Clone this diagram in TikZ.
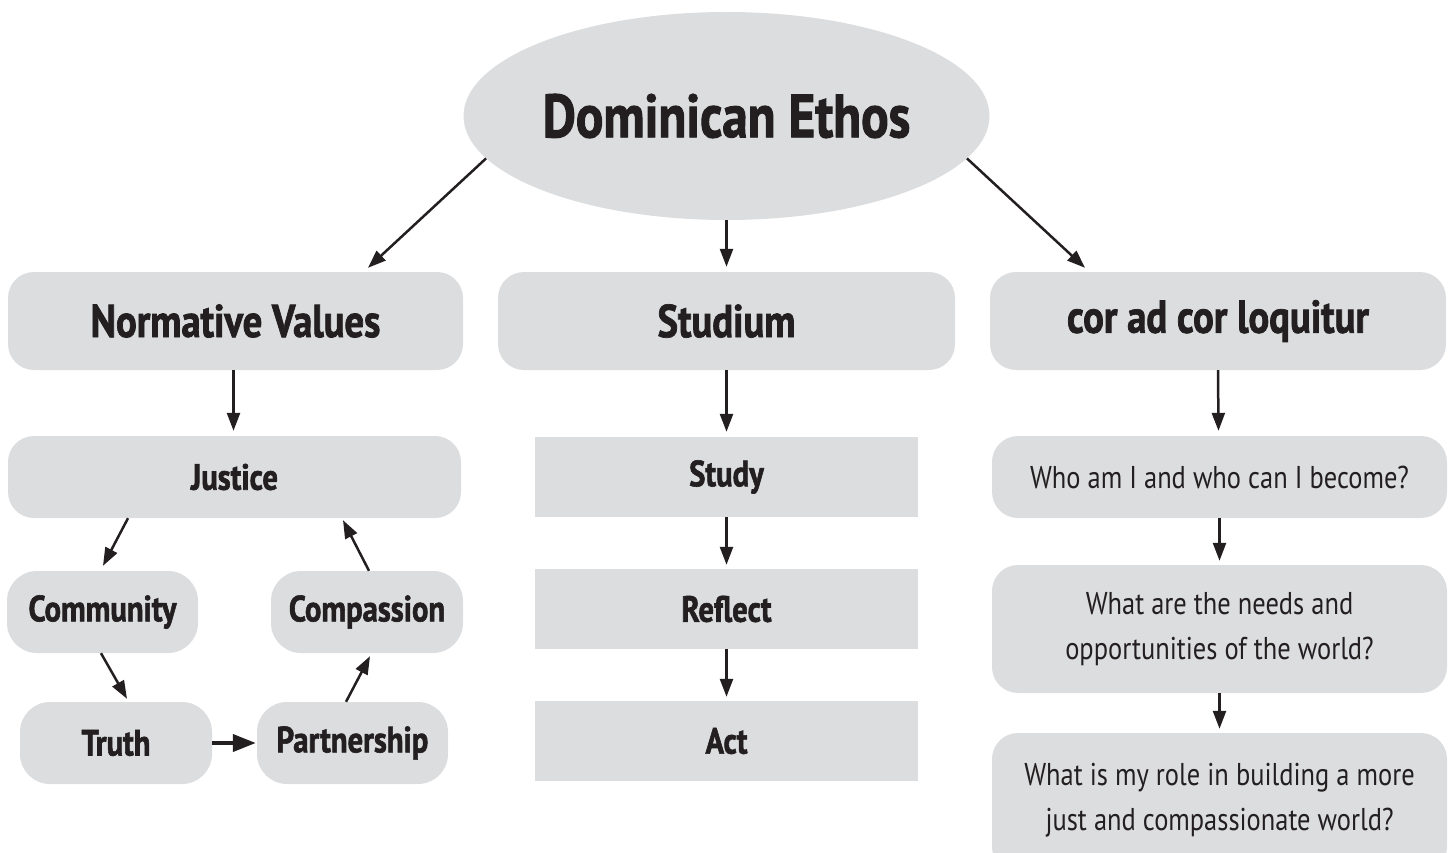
\documentclass[tikz,border=0pt]{standalone}
\usepackage{fontspec}
\setmainfont{PT Sans}[FakeStretch=0.84, BoldFeatures={FakeBold=1.6}]
\usetikzlibrary{shapes.geometric,arrows.meta}
\definecolor{boxgray}{RGB}{220,221,222}
\definecolor{ink}{RGB}{35,31,32}
\tikzset{
  rbox/.style={fill=boxgray, rounded corners=26pt, inner sep=0pt, align=center, text=ink},
  sbox/.style={fill=boxgray, inner sep=0pt, align=center, text=ink},
  arr/.style={draw=ink, line width=2.5pt, -{Triangle[length=18pt,width=13pt]}},
  thickarr/.style={draw=ink, line width=4pt, -{Triangle[length=23pt,width=17pt]}},
  big/.style={font=\fontsize{46}{50}\selectfont\bfseries},
  mid/.style={font=\fontsize{36.5}{40}\selectfont\bfseries},
  qst/.style={font=\fontsize{31.5}{45}\selectfont},
}
\begin{document}
\begin{tikzpicture}[x=1pt,y=-1pt]
\useasboundingbox (0,0) rectangle (1450,853);
\clip (0,0) rectangle (1450,853);
% top
\node[ellipse, fill=boxgray, minimum width=526pt, minimum height=208pt, inner sep=0pt, text=ink,
      font=\fontsize{61}{64}\selectfont\bfseries] (eth) at (726.5,116) {Dominican Ethos};
% level 2
\node[rbox, big, minimum width=455pt, minimum height=98pt] (nv) at (235.5,321) {Normative Values};
\node[rbox, big, minimum width=457pt, minimum height=98pt] (stu) at (726.5,321) {Studium};
\node[rbox, big, minimum width=456pt, minimum height=98pt] (cor) at (1218,321) {cor ad cor loquitur};
% left column
\node[rbox, mid, minimum width=453pt, minimum height=82pt] (just) at (234.5,477) {Justice};
\node[rbox, mid, minimum width=191pt, minimum height=82pt, rounded corners=30pt] (comm) at (102.5,612) {Community};
\node[rbox, mid, minimum width=192pt, minimum height=82pt, rounded corners=30pt] (comp) at (367,612) {Compassion};
\node[rbox, mid, minimum width=192pt, minimum height=82pt, rounded corners=30pt] (truth) at (116,743) {Truth};
\node[rbox, mid, minimum width=191pt, minimum height=82pt, rounded corners=30pt] (part) at (352.5,743) {Partnership};
% middle column
\node[sbox, mid, minimum width=383pt, minimum height=80pt] (study) at (726.5,477) {Study};
\node[sbox, mid, minimum width=383pt, minimum height=80pt] (refl) at (726.5,609) {Reflect};
\node[sbox, mid, minimum width=383pt, minimum height=80pt] (act) at (726.5,741) {Act};
% right column
\node[rbox, qst, minimum width=455pt, minimum height=82pt] (who) at (1219.5,477) {Who am I and who can I become?};
\node[rbox, qst, minimum width=455pt, minimum height=128pt] (what) at (1219.5,629) {What are the needs and\\opportunities of the world?};
\node[rbox, qst, minimum width=455pt, minimum height=140pt, text height=0pt] (role) at (1219.5,803) {};
\node[qst, text=ink, align=center, inner sep=0pt] (roletxt) at (1219.5,800) {What is my role in building a more\\just and compassionate world?};
% arrows from top
\draw[arr] (eth.190) -- ([xshift=132.5pt,yshift=4pt]nv.north);
\draw[arr] (eth.south) -- ([yshift=5pt]stu.north);
\draw[arr] (eth.-10.4) -- ([xshift=-133pt,yshift=4pt]cor.north);
% level 2 to 3
\draw[arr] ([xshift=-2pt]nv.south) -- ([xshift=-1pt,yshift=5pt]just.north);
\draw[arr] (stu.south) -- ([yshift=5pt]study.north);
\draw[arr] (cor.south) -- ([xshift=-1pt,yshift=5pt]who.north);
% left cycle
\draw[arr] ([xshift=-106.5pt]just.south) -- ([xshift=0.5pt,yshift=5pt]comm.north);
\draw[arr] ([xshift=-1.5pt]comm.south) -- ([xshift=11pt,yshift=3pt]truth.north);
\draw[thickarr] (truth.east) -- ([xshift=-1pt]part.west);
\draw[arr] ([xshift=-6.5pt]part.north) -- ([xshift=3pt,yshift=-3pt]comp.south);
\draw[arr] ([xshift=2pt]comp.north) -- ([xshift=108.5pt,yshift=-2pt]just.south);
% middle
\draw[arr] (study.south) -- ([yshift=4pt]refl.north);
\draw[arr] (refl.south) -- ([yshift=4pt]act.north);
% right
\draw[arr] (who.south) -- ([yshift=4pt]what.north);
\draw[arr] (what.south) -- ([yshift=4pt]role.north);
\end{tikzpicture}
\end{document}
